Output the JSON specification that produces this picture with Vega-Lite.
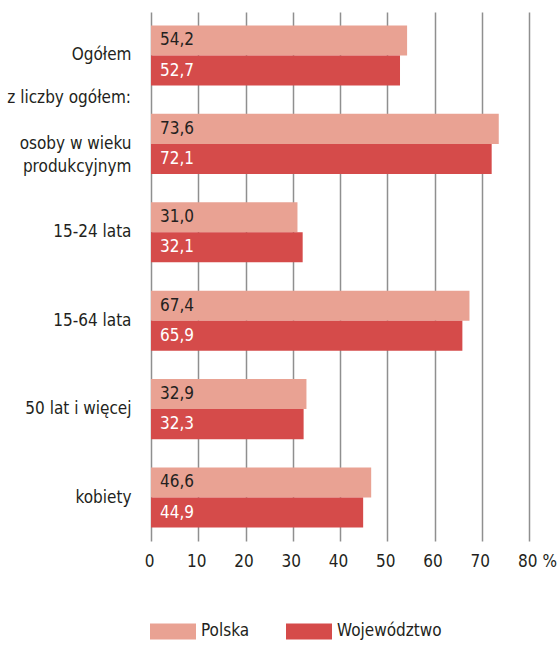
{
  "$schema": "https://vega.github.io/schema/vega-lite/v6.json",
  "autosize": "none",
  "padding": {"left": 151, "top": 12, "right": 28, "bottom": 107},
  "width": 378,
  "height": 529,
  "config": {
    "locale": {"number": {"decimal": ",", "thousands": " ", "grouping": [3], "currency": ["", " zł"]}},
    "font": "DejaVu Sans Condensed, Lato, sans-serif",
    "view": {"stroke": null}
  },
  "layer": [
    {
      "data": {"name": "main", "values": [
        {"kategoria": "Ogółem", "seria": "Polska", "wartosc": 54.2},
        {"kategoria": "Ogółem", "seria": "Województwo", "wartosc": 52.7},
        {"kategoria": "osoby w wieku produkcyjnym", "seria": "Polska", "wartosc": 73.6},
        {"kategoria": "osoby w wieku produkcyjnym", "seria": "Województwo", "wartosc": 72.1},
        {"kategoria": "15-24 lata", "seria": "Polska", "wartosc": 31.0},
        {"kategoria": "15-24 lata", "seria": "Województwo", "wartosc": 32.1},
        {"kategoria": "15-64 lata", "seria": "Polska", "wartosc": 67.4},
        {"kategoria": "15-64 lata", "seria": "Województwo", "wartosc": 65.9},
        {"kategoria": "50 lat i więcej", "seria": "Polska", "wartosc": 32.9},
        {"kategoria": "50 lat i więcej", "seria": "Województwo", "wartosc": 32.3},
        {"kategoria": "kobiety", "seria": "Polska", "wartosc": 46.6},
        {"kategoria": "kobiety", "seria": "Województwo", "wartosc": 44.9}
      ]},
      "layer": [
        {
          "mark": {"type": "bar"},
          "encoding": {
            "y": {"field": "kategoria", "type": "nominal",
              "scale": {"domain": ["Ogółem", "osoby w wieku produkcyjnym", "15-24 lata", "15-64 lata", "50 lat i więcej", "kobiety"], "paddingInner": 0.32, "paddingOuter": 0.152},
              "axis": {"title": null, "domain": false, "ticks": false, "labelPadding": 20,
                "labelFontSize": 17, "labelColor": "#231f20", "labelLimit": 200,
                "labelLineHeight": 23,
                "labelExpr": "datum.label == 'osoby w wieku produkcyjnym' ? ['osoby w wieku', 'produkcyjnym'] : datum.label"}},
            "yOffset": {"field": "seria", "type": "nominal", "scale": {"domain": ["Polska", "Województwo"], "paddingInner": 0, "paddingOuter": 0}},
            "x": {"field": "wartosc", "type": "quantitative",
              "scale": {"domain": [0, 80], "nice": false},
              "axis": {"title": null, "values": [0, 10, 20, 30, 40, 50, 60, 70, 80], "grid": true,
                "gridColor": "#8f8f8f", "gridWidth": 1.5, "domain": false, "ticks": false,
                "labelFlush": false,
                "labelPadding": 12, "labelFontSize": 17, "labelColor": "#231f20",
                "labelExpr": "datum.value == 80 ? '80 %' : datum.label",
                "labelOffset": {"condition": {"test": "datum.value == 80", "value": 8}, "value": -2}}},
            "color": {"field": "seria", "type": "nominal",
              "scale": {"domain": ["Polska", "Województwo"], "range": ["#e9a293", "#d54b4a"]},
              "legend": {"title": null, "orient": "none", "legendX": -1, "legendY": 596,
                "direction": "horizontal", "columns": 2, "columnPadding": 36,
                "symbolType": "M-1,-0.348L1,-0.348L1,0.348L-1,0.348Z", "symbolSize": 2116,
                "symbolStrokeWidth": 0, "symbolOpacity": 1,
                "labelFontSize": 17, "labelColor": "#231f20", "labelOffset": 5}}
          }
        },
        {
          "mark": {"type": "text", "align": "left", "baseline": "middle", "dx": 9, "fontSize": 17},
          "encoding": {
            "y": {"field": "kategoria", "type": "nominal"},
            "yOffset": {"field": "seria", "type": "nominal"},
            "x": {"datum": 0, "type": "quantitative"},
            "text": {"field": "wartosc", "type": "quantitative", "format": ".1f"},
            "color": {"condition": {"test": "datum.seria == 'Polska'", "value": "#231f20"}, "value": "#ffffff"}
          }
        }
      ]
    },
    {
      "data": {"values": [{"kategoria": "Ogółem", "etykieta": "z liczby ogółem:"}]},
      "mark": {"type": "text", "align": "right", "baseline": "middle", "dx": -20, "dy": 43, "fontSize": 17, "color": "#231f20"},
      "encoding": {
        "y": {"field": "kategoria", "type": "nominal"},
        "x": {"datum": 0, "type": "quantitative"},
        "text": {"field": "etykieta"}
      }
    }
  ]
}
